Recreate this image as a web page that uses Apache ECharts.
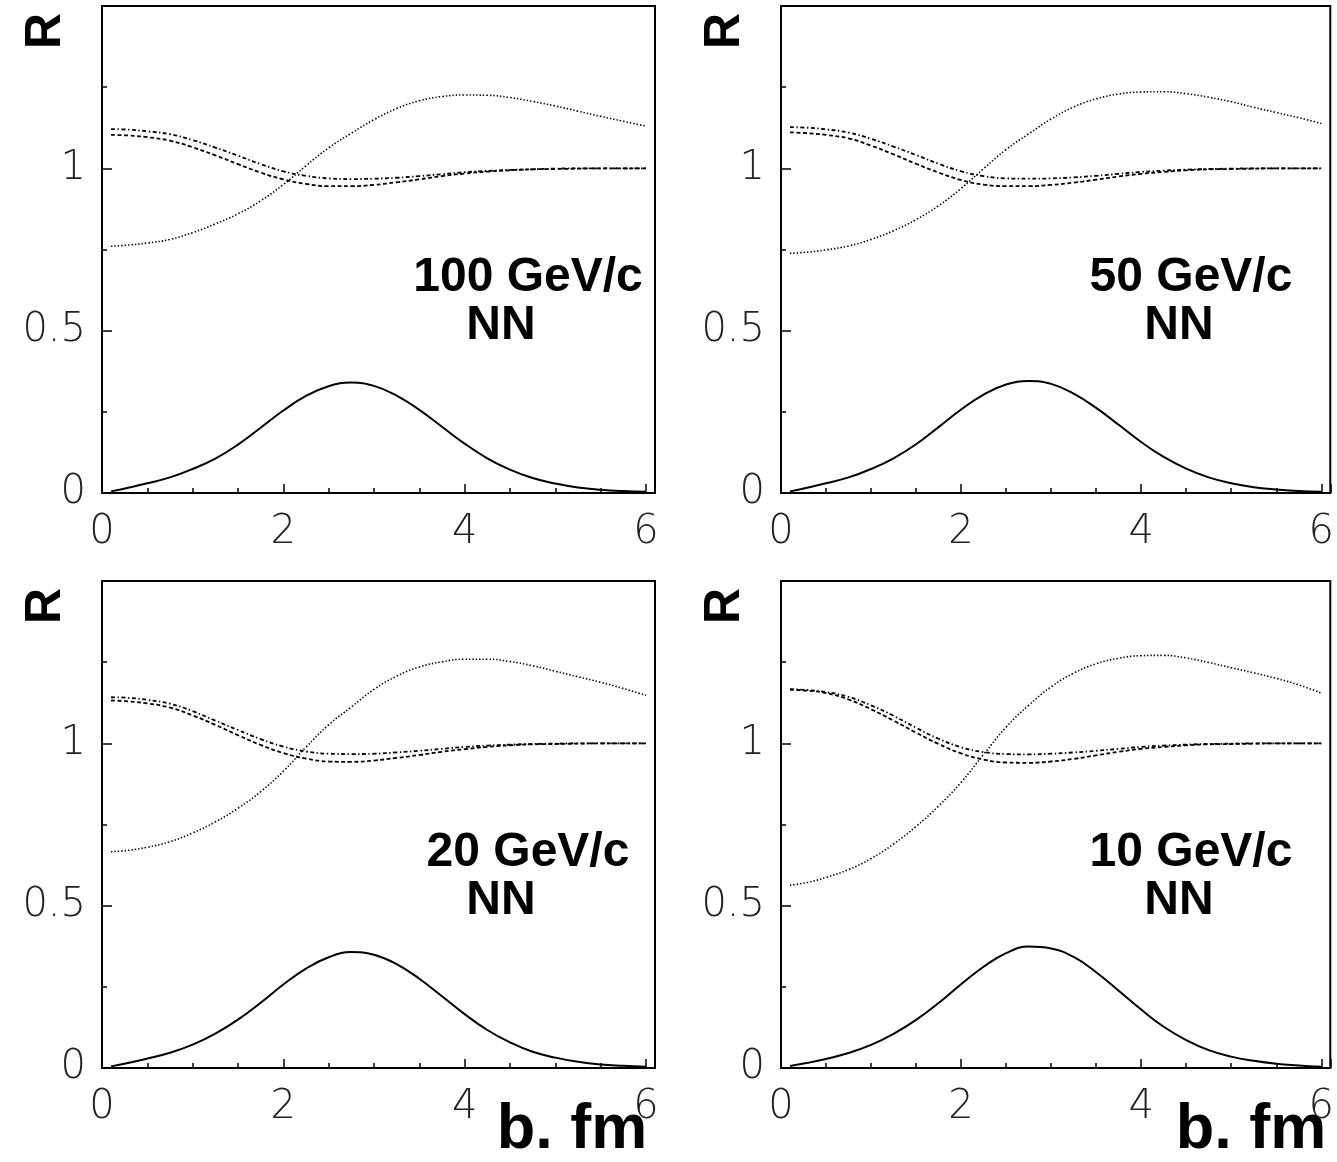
<!DOCTYPE html>
<html>
<head>
<meta charset="utf-8">
<style>
html, body { margin: 0; padding: 0; background: #fff; }
#chart { width: 1337px; height: 1162px; }
</style>
<script src="https://cdn.jsdelivr.net/npm/echarts@6/dist/echarts.min.js"></script>
</head>
<body>
<div id="chart"></div>
<script>
// impact parameter b, fm
const bValues = [0.1, 0.3, 0.5, 0.75, 1, 1.25, 1.5, 1.75, 2, 2.25, 2.5, 2.75, 3, 3.25, 3.5, 3.75, 4, 4.25, 4.5, 4.75, 5, 5.25, 5.5, 5.75, 6];

const xTickLabels = [0, 2, 4, 6];
const yTickLabels = [0, 0.5, 1];
const panelLabels = ['100 GeV/c', '50 GeV/c', '20 GeV/c', '10 GeV/c'];

// 100 GeV/c
const solid100   = [0.005,0.017,0.030,0.048,0.074,0.106,0.149,0.201,0.254,0.299,0.329,0.340,0.330,0.300,0.256,0.204,0.152,0.107,0.072,0.046,0.029,0.017,0.010,0.006,0.004];
const dotted100  = [0.760,0.764,0.770,0.781,0.802,0.829,0.860,0.900,0.950,1.008,1.063,1.108,1.150,1.184,1.208,1.221,1.226,1.225,1.218,1.206,1.192,1.176,1.160,1.145,1.130];
const dashed100  = [1.103,1.101,1.096,1.085,1.065,1.040,1.013,0.987,0.966,0.952,0.945,0.945,0.949,0.957,0.966,0.976,0.984,0.990,0.994,0.997,0.998,0.999,1.0,1.0,1.0];
const dashdot100 = [1.121,1.119,1.114,1.105,1.087,1.064,1.039,1.013,0.991,0.977,0.969,0.967,0.968,0.971,0.976,0.982,0.988,0.992,0.995,0.997,0.999,1.0,1.0,1.0,1.0];

// 50 GeV/c
const solid50   = [0.005,0.017,0.030,0.048,0.074,0.107,0.150,0.203,0.257,0.303,0.334,0.345,0.336,0.306,0.262,0.210,0.157,0.111,0.075,0.048,0.030,0.018,0.011,0.006,0.004];
const dotted50  = [0.738,0.742,0.749,0.761,0.781,0.808,0.842,0.885,0.938,0.999,1.058,1.106,1.152,1.189,1.214,1.229,1.235,1.236,1.230,1.219,1.205,1.188,1.172,1.156,1.138];
const dashed50  = [1.111,1.108,1.103,1.092,1.070,1.043,1.014,0.987,0.964,0.950,0.945,0.945,0.949,0.956,0.965,0.975,0.983,0.989,0.994,0.997,0.998,0.999,1.0,1.0,1.0];
const dashdot50 = [1.127,1.125,1.120,1.110,1.091,1.067,1.041,1.014,0.991,0.976,0.969,0.968,0.969,0.972,0.977,0.983,0.989,0.993,0.996,0.998,0.999,1.0,1.0,1.0,1.0];

// 20 GeV/c
const solid20   = [0.005,0.016,0.029,0.047,0.072,0.106,0.149,0.201,0.257,0.306,0.341,0.357,0.349,0.320,0.275,0.221,0.166,0.117,0.079,0.050,0.032,0.019,0.011,0.007,0.004];
const dotted20  = [0.666,0.671,0.680,0.697,0.724,0.758,0.800,0.851,0.914,0.988,1.057,1.112,1.166,1.207,1.235,1.251,1.259,1.259,1.252,1.239,1.222,1.205,1.188,1.169,1.148];
const dashed20  = [1.132,1.129,1.123,1.110,1.086,1.057,1.025,0.995,0.970,0.953,0.944,0.943,0.947,0.955,0.964,0.974,0.982,0.989,0.994,0.997,0.998,0.999,1.0,1.0,1.0];
const dashdot20 = [1.142,1.140,1.134,1.122,1.099,1.070,1.041,1.013,0.990,0.975,0.968,0.967,0.968,0.972,0.977,0.983,0.989,0.993,0.996,0.998,0.999,1.0,1.0,1.0,1.0];

// 10 GeV/c
const solid10   = [0.006,0.016,0.028,0.046,0.071,0.105,0.148,0.200,0.258,0.312,0.354,0.374,0.368,0.342,0.295,0.238,0.180,0.127,0.086,0.055,0.035,0.022,0.013,0.008,0.004];
const dotted10  = [0.563,0.572,0.587,0.611,0.645,0.690,0.744,0.807,0.880,0.966,1.050,1.117,1.174,1.216,1.245,1.262,1.270,1.271,1.263,1.249,1.233,1.217,1.200,1.180,1.155];
const dashed10  = [1.165,1.162,1.155,1.135,1.105,1.070,1.033,0.998,0.969,0.950,0.941,0.940,0.944,0.952,0.963,0.974,0.983,0.989,0.994,0.997,0.998,0.999,1.0,1.0,1.0];
const dashdot10 = [1.167,1.164,1.158,1.143,1.117,1.085,1.048,1.014,0.988,0.973,0.967,0.966,0.968,0.972,0.977,0.983,0.989,0.993,0.996,0.998,0.999,1.0,1.0,1.0,1.0];

const panelSeries = [
    [solid100, dotted100, dashed100, dashdot100],
    [solid50, dotted50, dashed50, dashdot50],
    [solid20, dotted20, dashed20, dashdot20],
    [solid10, dotted10, dashed10, dashdot10]
];

const lineStyles = [
    { color: '#000', width: 2, type: 'solid' },
    { color: '#000', width: 1.6, type: [1.4, 2] },
    { color: '#000', width: 1.8, type: [4, 2.5] },
    { color: '#000', width: 1.8, type: [4, 2.5, 1.4, 2.5] }
];

const gridPos = [[102, 6], [781, 6], [102, 581], [781, 581]];
const tickFont = { fontFamily: 'DejaVu Sans', fontWeight: 200, fontSize: 40, color: '#222' };

const chart = echarts.init(document.getElementById('chart'));

const grid = [], xAxis = [], yAxis = [], series = [], graphic = [];

gridPos.forEach((p, i) => {
    grid.push({
        left: p[0], top: p[1], width: 553, height: 487,
        show: true, borderColor: '#000', borderWidth: 2, backgroundColor: 'transparent'
    });
    // minor ticks + labels
    xAxis.push({
        gridIndex: i, type: 'value', position: 'bottom', min: 0, max: 6.1, interval: 0.5,
        axisLine: { show: false }, splitLine: { show: false },
        axisTick: { inside: true, length: 5, lineStyle: { color: '#000', width: 1.5 } },
        axisLabel: Object.assign({
            margin: 20,
            formatter: v => (xTickLabels.indexOf(v) >= 0 ? String(v) : '')
        }, tickFont)
    });
    // major ticks
    xAxis.push({
        gridIndex: i, type: 'value', position: 'bottom', min: 0, max: 6.1, interval: 2,
        axisLine: { show: false }, splitLine: { show: false }, axisLabel: { show: false },
        axisTick: { inside: true, length: 9, lineStyle: { color: '#000', width: 1.5 } }
    });
    yAxis.push({
        gridIndex: i, type: 'value', position: 'left', min: 0, max: 1.5, interval: 0.25,
        axisLine: { show: false }, splitLine: { show: false },
        axisTick: { inside: true, length: 5, lineStyle: { color: '#000', width: 1.5 } },
        axisLabel: Object.assign({
            margin: 16,
            formatter: v => (yTickLabels.indexOf(v) >= 0 ? String(v) : '')
        }, tickFont)
    });
    yAxis.push({
        gridIndex: i, type: 'value', position: 'left', min: 0, max: 1.5, interval: 0.5,
        axisLine: { show: false }, splitLine: { show: false }, axisLabel: { show: false },
        axisTick: { inside: true, length: 10, lineStyle: { color: '#000', width: 1.5 } }
    });

    panelSeries[i].forEach((vals, k) => {
        series.push({
            type: 'line',
            xAxisIndex: 2 * i, yAxisIndex: 2 * i,
            data: bValues.map((b, j) => [b, vals[j]]),
            showSymbol: false, symbol: 'none', smooth: 0.45,
            lineStyle: lineStyles[k],
            silent: true, animation: false
        });
    });

    const labelX = p[0] + (i % 2 === 0 ? 426 : 410);
    const nnX = p[0] + (i % 2 === 0 ? 399 : 398);
    const labelY = p[1] + 272;
    graphic.push({
        type: 'text', x: labelX, y: labelY,
        style: { text: panelLabels[i], font: 'bold 48px "Liberation Sans"', fill: '#000',
            textAlign: 'center', textVerticalAlign: 'middle', align: 'center', verticalAlign: 'middle' }
    });
    graphic.push({
        type: 'text', x: nnX, y: labelY + 48,
        style: { text: 'NN', font: 'bold 48px "Liberation Sans"', fill: '#000',
            textAlign: 'center', textVerticalAlign: 'middle', align: 'center', verticalAlign: 'middle' }
    });
    graphic.push({
        type: 'text', x: p[0] - 56, y: p[1] + 25, rotation: Math.PI / 2,
        style: { text: 'R', font: 'bold 50px "Liberation Sans"', fill: '#000',
            textAlign: 'center', textVerticalAlign: 'middle', align: 'center', verticalAlign: 'middle' }
    });
    if (i >= 2) {
        graphic.push({
            type: 'text', x: p[0] + 470, y: p[1] + 581,
            style: { text: 'b. fm', font: 'bold 63px "Liberation Sans"', fill: '#000',
                textAlign: 'center', textVerticalAlign: 'bottom', align: 'center', verticalAlign: 'bottom' }
        });
    }
});

chart.setOption({
    animation: false,
    backgroundColor: '#fff',
    grid: grid,
    xAxis: xAxis,
    yAxis: yAxis,
    series: series,
    graphic: graphic
});
</script>
</body>
</html>
